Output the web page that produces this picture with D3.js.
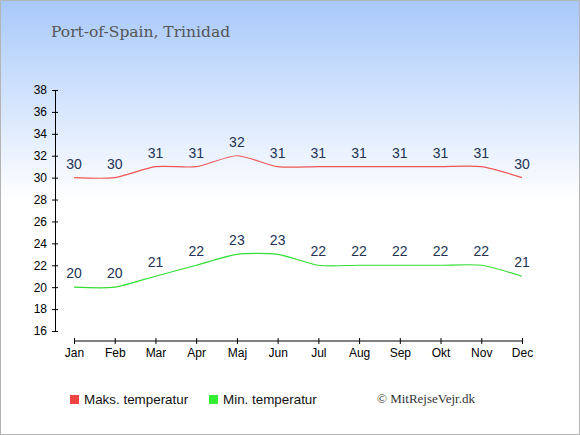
<!DOCTYPE html>
<html>
  <head>
    <meta charset="UTF-8" />
    <title>Port-of-Spain, Trinidad</title>
    <script src="https://d3js.org/d3.v7.min.js"></script>
    <style>
      body { margin: 0; }
      #chart { width: 580px; height: 435px; }
    </style>
  </head>
  <body>
    <div id="chart"></div>
    <script>
      // Data
      var months = ["Jan", "Feb", "Mar", "Apr", "Maj", "Jun", "Jul", "Aug", "Sep", "Okt", "Nov", "Dec"];
      var maxTemp = [30, 30, 31, 31, 32, 31, 31, 31, 31, 31, 31, 30];
      var minTemp = [20, 20, 21, 22, 23, 23, 22, 22, 22, 22, 22, 21];
      var yTicks = [16, 18, 20, 22, 24, 26, 28, 30, 32, 34, 36, 38];

      var W = 580, H = 435;
      var svg = d3.select("#chart").append("svg").attr("width", W).attr("height", H);

      // Baggrund med gradient
      var defs = svg.append("defs");
      var grad = defs.append("linearGradient").attr("id", "bg")
        .attr("x1", 0).attr("y1", 0).attr("x2", 0).attr("y2", 1);
      grad.append("stop").attr("offset", "0%").attr("stop-color", "#a8c9fb");
      grad.append("stop").attr("offset", "46%").attr("stop-color", "#ffffff");
      grad.append("stop").attr("offset", "100%").attr("stop-color", "#ffffff");
      svg.append("rect").attr("x", 0.5).attr("y", 0.5).attr("width", W - 1).attr("height", H - 1)
        .attr("fill", "url(#bg)").attr("stroke", "#b4b4b4");

      // Titel
      svg.append("text").attr("x", 51).attr("y", 37)
        .style("font-family", "'DejaVu Serif', Georgia, serif").style("font-size", "15.5px")
        .attr("fill", "#555").text("Port-of-Spain, Trinidad");

      // Skalaer
      var x = d3.scalePoint().domain(months).range([74, 522]);
      var y = d3.scaleLinear().domain([16, 38]).range([331, 90]);

      // Akser
      var yAxis = svg.append("g").attr("transform", "translate(55,0)")
        .call(d3.axisLeft(y).tickValues(yTicks).tickSizeInner(3).tickSizeOuter(0).tickPadding(5));
      yAxis.selectAll(".tick line").attr("x1", 3).attr("x2", -3);

      var xAxis = svg.append("g").attr("transform", "translate(0,341)")
        .call(d3.axisBottom(x).tickSizeInner(3).tickSizeOuter(0).tickPadding(4));
      xAxis.select(".domain").attr("d", "M" + x("Jan") + ",0H" + x("Dec"));
      xAxis.selectAll(".tick line").attr("y1", -3).attr("y2", 3);

      svg.selectAll(".tick text").style("font-family", "'Liberation Sans', Arial, sans-serif")
        .style("font-size", "12px").attr("fill", "#000");
      svg.selectAll(".domain, .tick line").attr("stroke", "#000");

      // Linjer
      var line = d3.line()
        .x(function (d, i) { return x(months[i]); })
        .y(function (d) { return y(d); })
        .curve(d3.curveCardinal.tension(0.3));

      svg.append("path").datum(maxTemp).attr("d", line)
        .attr("fill", "none").attr("stroke", "#ee5555").attr("stroke-width", 1.2);
      svg.append("path").datum(minTemp).attr("d", line)
        .attr("fill", "none").attr("stroke", "#33dd33").attr("stroke-width", 1.2);

      // Værdier
      function labels(data) {
        svg.append("g").selectAll("text").data(data).enter().append("text")
          .attr("x", function (d, i) { return x(months[i]); })
          .attr("y", function (d) { return y(d) - 9; })
          .attr("text-anchor", "middle")
          .style("font-family", "'Liberation Sans', Arial, sans-serif").style("font-size", "14px")
          .attr("fill", "#223355")
          .text(function (d) { return d; });
      }
      labels(maxTemp);
      labels(minTemp);

      // Legende
      var legend = [
        { name: "Maks. temperatur", color: "#ee4444", x: 70 },
        { name: "Min. temperatur", color: "#33ee33", x: 209 }
      ];
      legend.forEach(function (l) {
        svg.append("rect").attr("x", l.x).attr("y", 395).attr("width", 9).attr("height", 9).attr("fill", l.color);
        svg.append("text").attr("x", l.x + 14).attr("y", 404)
          .style("font-family", "'Liberation Sans', Arial, sans-serif").style("font-size", "13.4px")
          .attr("fill", "#111").text(l.name);
      });

      svg.append("text").attr("x", 377).attr("y", 403)
        .style("font-family", "'Liberation Serif', 'Times New Roman', serif").style("font-size", "13px")
        .attr("fill", "#333").text("© MitRejseVejr.dk");
    </script>
  </body>
</html>
